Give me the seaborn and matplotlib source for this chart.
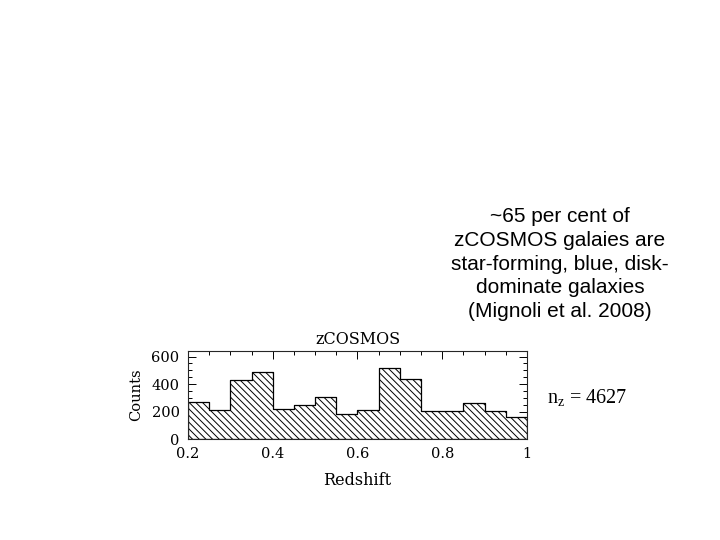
import numpy as np
import pandas as pd
import matplotlib
matplotlib.use("Agg")
import matplotlib.pyplot as plt
from matplotlib.ticker import MultipleLocator, FixedLocator, FixedFormatter
import seaborn as sns

# zCOSMOS redshift histogram
bin_left = [0.20, 0.25, 0.30, 0.35, 0.40, 0.45, 0.50, 0.55,
            0.60, 0.65, 0.70, 0.75, 0.80, 0.85, 0.90, 0.95]
counts = [268, 210, 432, 484, 216, 246, 308, 180,
          214, 520, 433, 205, 205, 260, 202, 163]
x_ticks = [0.2, 0.4, 0.6, 0.8, 1.0]
x_labels = ["0.2", "0.4", "0.6", "0.8", "1"]
y_ticks = [0, 200, 400, 600]

df = pd.DataFrame({"z": np.array(bin_left) + 0.025, "n": counts})
edges = list(bin_left) + [1.0]

sns.set_style("ticks")
plt.rcParams["font.family"] = ["DejaVu Serif"]
plt.rcParams["text.color"] = "black"
plt.rcParams["axes.labelcolor"] = "black"
plt.rcParams["hatch.linewidth"] = 0.7

fig = plt.figure(figsize=(7.2, 5.4), dpi=100)
ax = fig.add_axes([0.261, 0.187, 0.471, 0.163])

sns.histplot(data=df, x="z", weights="n", bins=edges, element="step",
             fill=True, facecolor="white", edgecolor="black", linewidth=0.9,
             hatch="\\" * 5, alpha=1, ax=ax)

ax.set_xlim(0.2, 1.0)
ax.set_ylim(0, 640)
ax.xaxis.set_major_locator(FixedLocator(x_ticks))
ax.xaxis.set_major_formatter(FixedFormatter(x_labels))
ax.xaxis.set_minor_locator(MultipleLocator(0.05))
ax.yaxis.set_major_locator(FixedLocator(y_ticks))
ax.yaxis.set_minor_locator(MultipleLocator(50))
ax.tick_params(which="both", direction="in", top=True, right=True,
               labelsize=10.5, colors="black", width=0.7)
ax.tick_params(which="major", length=6, pad=6)
ax.tick_params(which="minor", length=3)
for s in ax.spines.values():
    s.set_linewidth(0.8)
    s.set_visible(True)

ax.set_title("zCOSMOS", fontsize=11.5, pad=5)
ax.set_xlabel("Redshift", fontsize=11.5, labelpad=8)
ax.set_ylabel("Counts", fontsize=10.5, labelpad=6)

fig.text(560 / 720, 1 - 264 / 540,
         "~65 per cent of\nzCOSMOS galaies are\nstar-forming, blue, disk-\ndominate galaxies\n(Mignoli et al. 2008)",
         ha="center", va="center", fontsize=15, linespacing=1.32,
         color="black", family=["Liberation Sans", "DejaVu Sans"])
fig.text(547 / 720, 1 - 398 / 540, r"n$_{\mathregular{z}}$ = 4627",
         ha="left", va="center", fontsize=14.5, color="black",
         family=["Liberation Serif", "DejaVu Serif"])

fig.savefig("out.png", dpi=100)
